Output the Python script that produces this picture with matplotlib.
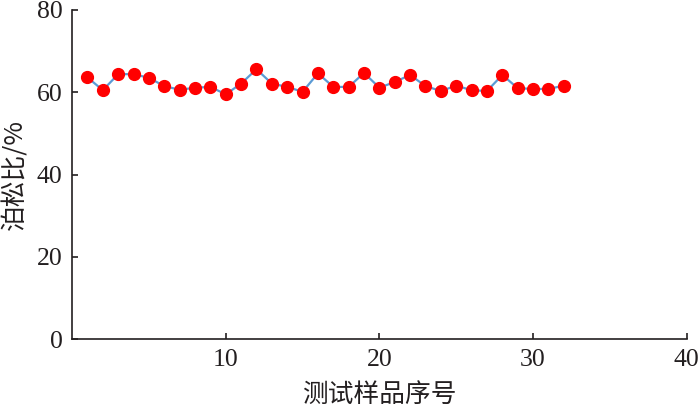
import matplotlib
matplotlib.use("Agg")
import matplotlib.pyplot as plt

# sample index and Poisson's ratio (%)
sample_no = list(range(1, 33))
poisson_pct = [63.6, 60.5, 64.4, 64.4, 63.5, 61.5, 60.6, 61.1, 61.3, 59.5,
               62.1, 65.6, 62.1, 61.3, 60.1, 64.6, 61.3, 61.3, 64.7, 61.1,
               62.5, 64.2, 61.5, 60.3, 61.6, 60.5, 60.3, 64.2, 61.0, 60.8,
               60.8, 61.6]

x_ticks = [10, 20, 30, 40]
y_ticks = [0, 20, 40, 60, 80]

ink = "#231f20"
num_font = ["Liberation Serif", "DejaVu Serif"]
cjk_font = ["Noto Sans CJK SC", "DejaVu Sans"]

fig = plt.figure(figsize=(7, 4.16), dpi=100)
ax = fig.add_axes([0.103, 0.185, 0.878, 0.791])

ax.plot(sample_no, poisson_pct, color="#5b9bd5", lw=1.6, zorder=2)
ax.plot(sample_no, poisson_pct, "o", color="#ff0000", ms=8.5, mec="#ff0000",
        zorder=3)

ax.set_xlim(0, 40)
ax.set_ylim(0, 80)
ax.set_xticks(x_ticks)
ax.set_yticks(y_ticks)
ax.tick_params(direction="in", length=4, width=1.2, color=ink,
               labelsize=18.5, labelcolor=ink, pad=7)
for lab in ax.get_xticklabels() + ax.get_yticklabels():
    lab.set_family(num_font)

for side in ("top", "right"):
    ax.spines[side].set_visible(False)
for side in ("left", "bottom"):
    ax.spines[side].set_color(ink)
    ax.spines[side].set_linewidth(1.2)

ax.set_xlabel("测试样品序号", family=cjk_font, fontsize=18.5, color=ink,
              labelpad=8, fontweight="light")
ax.set_ylabel("泊松比/%", family=cjk_font, fontsize=18.5, color=ink,
              labelpad=6, fontweight="light")

fig.savefig("out.png", dpi=100)
